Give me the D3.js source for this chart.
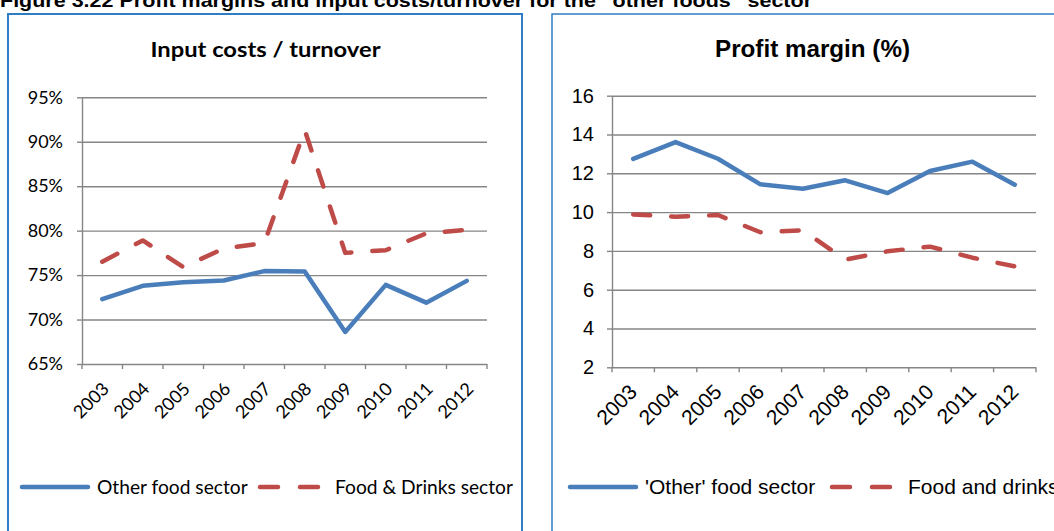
<!DOCTYPE html>
<html>
<head>
<meta charset="utf-8">
<script src="https://cdn.jsdelivr.net/npm/d3@7/dist/d3.min.js"></script>
<style>
  html, body { margin: 0; padding: 0; background: #fff; }
  svg { display: block; }
</style>
</head>
<body>
<svg id="chart" width="1054" height="531"></svg>
<script>
// ---- data ----
const years = ["2003","2004","2005","2006","2007","2008","2009","2010","2011","2012"];

// Input costs / turnover (%)
const inputOther = [72.3, 73.8, 74.2, 74.4, 75.45, 75.4, 68.6, 73.9, 71.9, 74.35];
const inputFoodDrinks = [76.5, 78.9, 75.9, 78.0, 78.6, 91.3, 77.5, 77.8, 79.7, 80.1];
const inputTicks = [65, 70, 75, 80, 85, 90, 95];

// Profit margin (%)
const profitOther = [12.74, 13.61, 12.75, 11.43, 11.2, 11.64, 10.98, 12.12, 12.6, 11.41];
const profitFoodDrinks = [9.88, 9.76, 9.85, 8.96, 9.06, 7.55, 7.98, 8.22, 7.65, 7.2];
const profitTicks = [2, 4, 6, 8, 10, 12, 14, 16];

const headerText = "Figure 3.22 Profit margins and input costs/turnover for the \u201Cother foods\u201D sector";

const BLUE = "#4A7EBB";
const RED = "#BE4B48";
const GRID = "#868686";
const FRAME = "#2F7DC4";

const svg = d3.select("#chart");

// Header line across the top
svg.append("text")
  .attr("x", 0).attr("y", 6.5)
  .attr("font-family", "Liberation Sans, Arial, sans-serif")
  .attr("font-weight", "bold")
  .attr("font-size", 19)
  .attr("textLength", 812).attr("lengthAdjust", "spacingAndGlyphs")
  .attr("fill", "#000")
  .text(headerText);

function drawPanel(cfg) {
  const g = svg.append("g");

  // panel frame
  g.append("rect")
    .attr("x", cfg.frame[0]).attr("y", cfg.frame[1])
    .attr("width", cfg.frame[2]).attr("height", cfg.frame[3])
    .attr("fill", "none").attr("stroke", FRAME).attr("stroke-width", cfg.frameWidth);

  // title
  g.append("text")
    .attr("x", cfg.titleX).attr("y", cfg.titleY)
    .attr("text-anchor", "middle")
    .attr("font-family", cfg.font).attr("font-weight", "bold")
    .attr("font-size", cfg.titleSize).attr("fill", "#000")
    .attr("textLength", cfg.titleWidth).attr("lengthAdjust", "spacingAndGlyphs")
    .text(cfg.title);

  const x = d3.scaleBand().domain(years).range([cfg.left, cfg.right]).padding(0);
  const y = d3.scaleLinear().domain(cfg.domain).range([cfg.bottom, cfg.top]);

  // horizontal gridlines
  g.append("g")
    .attr("transform", `translate(${cfg.left},0)`)
    .call(d3.axisLeft(y).tickValues(cfg.ticks).tickSize(-(cfg.right - cfg.left)).tickFormat(""))
    .call(s => s.select(".domain").remove())
    .call(s => s.selectAll(".tick line").attr("stroke", GRID).attr("stroke-width", 1.4));

  // y axis with outer ticks and labels
  g.append("g")
    .attr("transform", `translate(${cfg.left},0)`)
    .call(d3.axisLeft(y).tickValues(cfg.ticks).tickSize(5).tickSizeOuter(0).tickPadding(cfg.yPad).tickFormat(cfg.yFormat))
    .call(s => s.select(".domain").attr("stroke", GRID).attr("stroke-width", 1.4))
    .call(s => s.selectAll(".tick line").attr("stroke", GRID).attr("stroke-width", 1.4))
    .call(s => s.selectAll(".tick text")
      .attr("font-family", cfg.font).attr("font-size", cfg.labelSize).attr("fill", "#000"));

  // x axis: tick marks at category boundaries
  const edges = years.map(d => x(d)).concat([cfg.right]);
  g.append("g").selectAll("line").data(edges).join("line")
    .attr("x1", d => d).attr("x2", d => d)
    .attr("y1", cfg.bottom).attr("y2", cfg.bottom + 5)
    .attr("stroke", GRID).attr("stroke-width", 1.4);

  // x axis rotated labels
  g.append("g").selectAll("text").data(years).join("text")
    .attr("transform", d => `translate(${x(d) + x.bandwidth() / 2 + cfg.xLabDx},${cfg.bottom + cfg.xLabDy}) rotate(-45)`)
    .attr("text-anchor", "end")
    .attr("font-family", cfg.font).attr("font-size", cfg.xLabelSize).attr("fill", "#000")
    .text(d => d);

  const line = d3.line()
    .x((d, i) => x(years[i]) + x.bandwidth() / 2)
    .y(d => y(d));

  g.append("path").datum(cfg.series2)
    .attr("d", line).attr("fill", "none")
    .attr("stroke", RED).attr("stroke-width", 4.5)
    .attr("stroke-linecap", "round").attr("stroke-linejoin", "round")
    .attr("stroke-dasharray", "17,21");

  g.append("path").datum(cfg.series1)
    .attr("d", line).attr("fill", "none")
    .attr("stroke", BLUE).attr("stroke-width", 4.5)
    .attr("stroke-linecap", "round").attr("stroke-linejoin", "round");

  // legend
  const ly = cfg.legendY;
  const L = cfg.legend;
  g.append("line").attr("x1", L.l1[0]).attr("x2", L.l1[1]).attr("y1", ly).attr("y2", ly)
    .attr("stroke", BLUE).attr("stroke-width", 4.5).attr("stroke-linecap", "round");
  g.append("text").attr("x", L.t1).attr("y", ly).attr("dy", "0.35em")
    .attr("font-family", cfg.font).attr("font-size", cfg.legendSize).attr("fill", "#000")
    .text(L.name1);
  g.append("line").attr("x1", L.l2[0]).attr("x2", L.l2[1]).attr("y1", ly).attr("y2", ly)
    .attr("stroke", RED).attr("stroke-width", 4.5).attr("stroke-linecap", "round")
    .attr("stroke-dasharray", "18,22");
  g.append("text").attr("x", L.t2).attr("y", ly).attr("dy", "0.35em")
    .attr("font-family", cfg.font).attr("font-size", cfg.legendSize).attr("fill", "#000")
    .text(L.name2);
}

drawPanel({
  frame: [8, 14, 514, 560], frameWidth: 2,
  title: "Input costs / turnover", titleX: 265.5, titleY: 57, titleSize: 21, titleWidth: 230,
  font: "Lato, Carlito, Calibri, sans-serif",
  left: 82, right: 487, top: 97.3, bottom: 364,
  domain: [65, 95], ticks: inputTicks,
  yFormat: d => d + "%", yPad: 14, labelSize: 18,
  xLabDx: 8, xLabDy: 26, xLabelSize: 18,
  series1: inputOther, series2: inputFoodDrinks,
  legendY: 487, legendSize: 19.2,
  legend: { l1: [22, 88], t1: 97, name1: "Other food sector",
            l2: [260, 320], t2: 335, name2: "Food & Drinks sector" }
});

drawPanel({
  frame: [552, 14, 560, 560], frameWidth: 1.5,
  title: "Profit margin (%)", titleX: 812.5, titleY: 57, titleSize: 23, titleWidth: 195,
  font: "Liberation Sans, Arial, sans-serif",
  left: 612, right: 1036, top: 95.7, bottom: 367.3,
  domain: [2, 16], ticks: profitTicks,
  yFormat: d => d, yPad: 13, labelSize: 20,
  xLabDx: 5, xLabDy: 26, xLabelSize: 21,
  series1: profitOther, series2: profitFoodDrinks,
  legendY: 487, legendSize: 21,
  legend: { l1: [570, 636], t1: 645, name1: "'Other' food sector",
            l2: [832, 893], t2: 908, name2: "Food and drinks sector" }
});
</script>
</body>
</html>
